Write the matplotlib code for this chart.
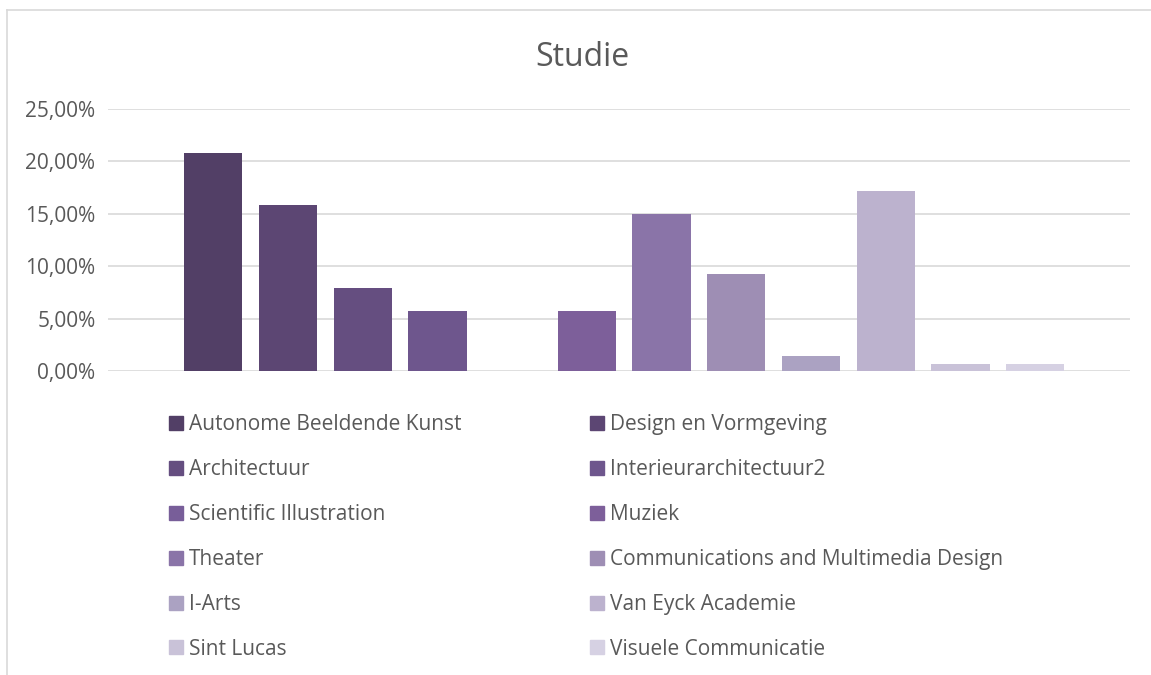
import matplotlib.pyplot as plt
from matplotlib.lines import Line2D
from matplotlib.ticker import FuncFormatter

plt.rcParams['font.family'] = ['Open Sans', 'DejaVu Sans']

# Data
studies = ["Autonome Beeldende Kunst", "Design en Vormgeving", "Architectuur",
           "Interieurarchitectuur2", "Scientific Illustration", "Muziek",
           "Theater", "Communications and Multimedia Design", "I-Arts",
           "Van Eyck Academie", "Sint Lucas", "Visuele Communicatie"]
shares = [20.8, 15.8, 7.9, 5.7, 0.0, 5.7, 15.0, 9.3, 1.4, 17.2, 0.7, 0.7]
colors = ["#523F66", "#5C4673", "#654E80", "#6E568D", "#785E99", "#7D5F9A",
          "#8A74A8", "#9E8EB4", "#ABA2C2", "#BCB2CE", "#C9C2D8", "#D6D1E3"]
yticks = [0, 5, 10, 15, 20, 25]

fig = plt.figure(figsize=(11.51, 6.75), dpi=100)
ax = fig.add_axes([108 / 1151, 1 - 371 / 675, 1022 / 1151, 262 / 675])

for i, (name, v, c) in enumerate(zip(studies, shares, colors)):
    ax.bar(i, v, width=0.78, color=c, label=name, zorder=2)

ax.set_xlim(-1.41, 12.27)
ax.set_ylim(0, 25)
ax.set_yticks(yticks)
ax.yaxis.set_major_formatter(FuncFormatter(lambda v, p: f"{v:.2f}%".replace(".", ",")))
ax.tick_params(axis='y', length=0, labelsize=15, labelcolor="#595959", pad=9)
ax.set_xticks([])
ax.grid(axis='y', color="#D9D9D9", linewidth=1.2, zorder=0)
for s in ax.spines.values():
    s.set_visible(False)

fig.text(0.506, 1 - 57 / 675, "Studie", ha='center', va='center',
         fontsize=23, color="#595959")

# legend in two columns, row-wise order
def make_legend(idx, x):
    handles = [Line2D([], [], marker='s', linestyle='', markersize=10,
                      markerfacecolor=colors[k], markeredgecolor=colors[k]) for k in idx]
    lg = fig.legend(handles, [studies[k] for k in idx], loc='upper left',
                    bbox_to_anchor=(x, 1 - 414 / 675), frameon=False,
                    fontsize=15, labelcolor="#595959", handlelength=0.65,
                    handletextpad=0.3, labelspacing=1.15, borderpad=0,
                    borderaxespad=0)
    return lg

make_legend([0, 2, 4, 6, 8, 10], 169 / 1151)
make_legend([1, 3, 5, 7, 9, 11], 590 / 1151)

# chart border
fig.add_artist(Line2D([7 / 1151, 1], [1 - 10 / 675, 1 - 10 / 675],
                      color="#D9D9D9", linewidth=1.2))
fig.add_artist(Line2D([7 / 1151, 7 / 1151], [0, 1 - 10 / 675],
                      color="#D9D9D9", linewidth=1.2))

fig.savefig("out.png", dpi=100)
